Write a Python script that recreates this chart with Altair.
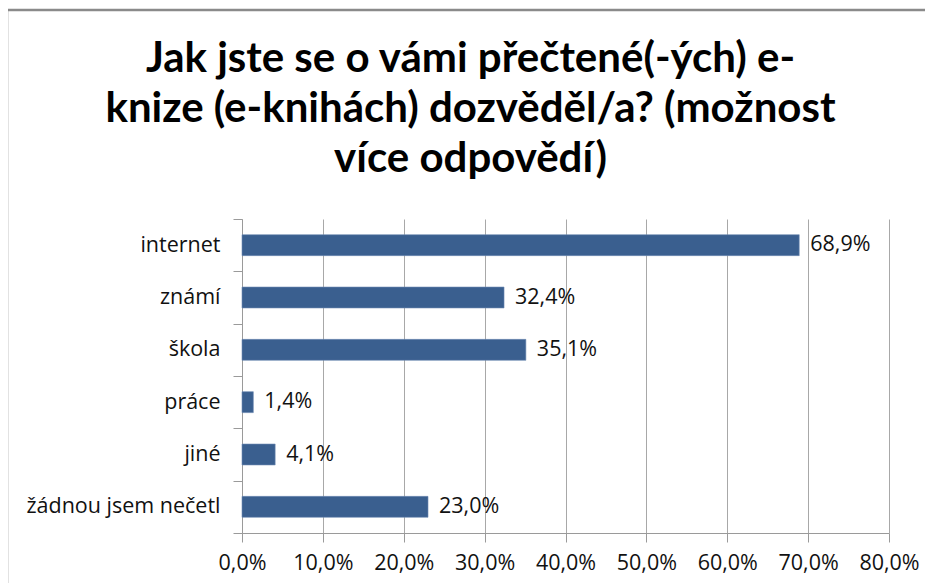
import altair as alt
import pandas as pd

categories = ["internet", "známí", "škola", "práce", "jiné", "žádnou jsem nečetl"]
values = [68.9, 32.4, 35.1, 1.4, 4.1, 23.0]
x_ticks = [0, 10, 20, 30, 40, 50, 60, 70, 80]
title_lines = ["Jak jste se o vámi přečtené(-ých) e-",
               "knize (e-knihách) dozvěděl/a? (možnost",
               "více odpovědí)"]

df = pd.DataFrame({"cat": categories, "val": values})
FONT = "Open Sans"
TFONT = "Lato"

base = alt.Chart(df).transform_calculate(
    lbl="replace(format(datum.val / 100, '.1%'), '.', ',')"
)

y_enc = alt.Y(
    "cat:N", sort=categories, title=None,
    scale=alt.Scale(paddingInner=0, paddingOuter=0),
    axis=alt.Axis(tickBand="extent", tickSize=9, tickColor="#9a9a9a",
                  domainColor="#9a9a9a", labelPadding=13, labelFont=FONT,
                  labelFontSize=21.5, labelColor="#111111", grid=False,
                  labelLimit=400),
)
x_enc = alt.X(
    "val:Q", title=None,
    scale=alt.Scale(domain=[0, 80], nice=False),
    axis=alt.Axis(values=x_ticks, grid=True, gridColor="#a8a8a8",
                  tickColor="#9a9a9a", domainColor="#9a9a9a", tickSize=9,
                  labelPadding=10, labelFont=FONT, labelFontSize=21.5,
                  labelColor="#111111", labelOverlap=False, labelFlush=False,
                  labelExpr="replace(format(datum.value / 100, '.1%'), '.', ',')"),
)

bars = base.mark_bar(color="#3A5F8F", stroke="#6E8CB4", strokeWidth=0.6,
                     height={"band": 0.4}).encode(y=y_enc, x=x_enc)

labels = base.mark_text(align="left", baseline="middle", dx=11,
                        font=FONT, fontSize=21.5, color="#111111").encode(
    y=alt.Y("cat:N", sort=categories), x="val:Q", text="lbl:N")

frame = alt.Chart(pd.DataFrame({"a": [0]})).mark_rect(
    filled=False, stroke="#8a8a8a", strokeWidth=2.5).encode(
    x=alt.value(-235), x2=alt.value(700), y=alt.value(-209), y2=alt.value(420))

chart = alt.layer(frame, bars, labels).properties(
    width=647, height=314,
    title=alt.TitleParams(text=title_lines, font=TFONT, fontSize=42,
                          fontWeight="bold", color="#000000", anchor="middle",
                          dx=-95, offset=-172, lineHeight=50),
    autosize=alt.AutoSizeParams(type="none"),
    padding={"left": 234, "top": 211, "right": 36, "bottom": 50},
).configure_view(stroke=None)

chart.save("out.html", embed_options={"renderer": "svg", "actions": False})
